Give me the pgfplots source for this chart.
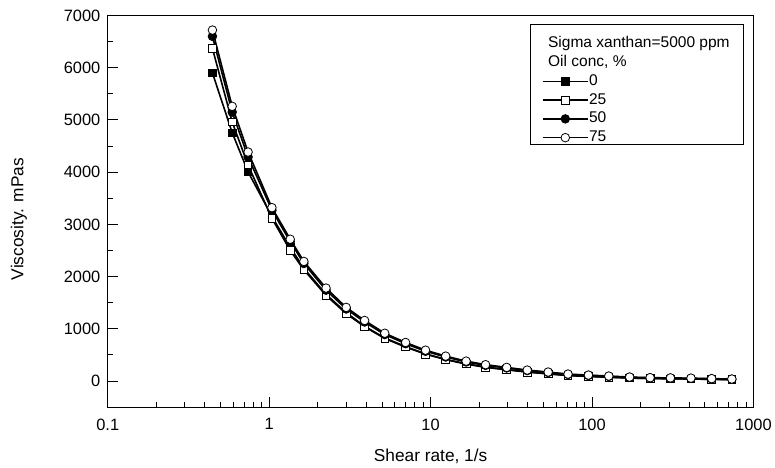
\documentclass[border=0pt]{standalone}
\usepackage{pgfplots}
\pgfplotsset{compat=1.18}
\usepackage{pgfplotstable}
\usepackage{fontspec}
\setmainfont{Liberation Sans}

\pgfplotstableread{
x      s0    s25   s50   s75
0.445  5900  6370  6600  6720
0.59   4755  4960  5150  5260
0.74   4005  4135  4290  4385
1.04   3150  3115  3270  3320
1.35   2560  2500  2670  2715
1.64   2160  2130  2250  2290
2.25   1660  1640  1740  1780
3.0    1310  1290  1380  1410
3.9    1050  1040  1130  1160
5.2    825   815   890   915
7.0    660   650   715   738
9.3    520   515   570   591
12.4   415   410   460   477
16.6   330   325   365   381
21.9   268   262   300   313
29.6   220   215   250   261
39.7   175   170   200   210
53.5   140   137   163   172
71     107   104   126   133
95     90    88    107   114
127    74    72    89    95
171    58    57    71    76
229    48    47    60    64
306    44    43    55    60
410    39    38    50    55
551    33    32    42    46
735    27    26    34    38
}\visc

\begin{document}
\begin{tikzpicture}
\begin{axis}[
  width=647bp, height=392.5bp, scale only axis,
  xmode=log, xmin=0.1, xmax=1000, ymin=-500, ymax=7000,
  xtick={0.1,1,10,100,1000}, xticklabels={0.1,1,10,100,1000},
  minor xtick={0.2,0.3,0.4,0.5,0.6,0.7,0.8,0.9,2,3,4,5,6,7,8,9,20,30,40,50,60,70,80,90,200,300,400,500,600,700,800,900},
  ytick={0,1000,...,7000}, minor ytick={-500,500,...,6500},
  tick align=inside, tick pos=left,
  major tick length=10bp, minor tick length=5bp,
  axis line style={line width=1.2bp},
  every tick/.style={black, line width=1bp},
  /pgf/number format/assume math mode=true,
  /pgf/number format/set thousands separator={},
  yticklabel style={font=\fontsize{16.5}{19}\selectfont, xshift=-4bp},
  xticklabel style={font=\fontsize{16.5}{19}\selectfont, yshift=-8bp},
  every axis y label/.style={at={(axis description cs:-0.1376,0.48)}, rotate=90, anchor=center, font=\fontsize{17.4}{20}\selectfont},
  every axis x label/.style={at={(axis description cs:0.5,-0.126)}, anchor=center, font=\fontsize{17.4}{20}\selectfont},
  ylabel={Viscosity. mPas},
  xlabel={Shear rate, 1/s},
  legend style={at={(rel axis cs:0.6723,0.952)}, anchor=north west, draw=none, fill=none,
    inner xsep=0pt, inner ysep=0pt, column sep=0pt, font=\fontsize{15.6}{18}\selectfont,
    nodes={inner xsep=0.5bp, inner ysep=1bp, text height=12.3bp, text depth=4.5bp}},
  legend cell align=left,
  legend image code/.code={\draw[mark repeat=2,mark phase=2,#1] plot coordinates {(0bp,0bp) (22.5bp,0bp) (45bp,0bp)};},
  every axis plot/.append style={black, line width=1.6bp},
]
\addlegendimage{empty legend}
\addlegendentry{\hspace{-41bp}Sigma xanthan=5000 ppm}
\addlegendimage{empty legend}
\addlegendentry{\hspace{-41bp}Oil conc, \%}
\addplot[mark=square*, mark size=3.8bp, mark options={solid, fill=black, line width=0.8bp}] table[x=x,y=s0] {\visc};
\addlegendentry{0}
\addplot[mark=square*, mark size=3.8bp, mark options={solid, fill=white, line width=0.8bp}] table[x=x,y=s25] {\visc};
\addlegendentry{25}
\addplot[mark=*, mark size=4.3bp, mark options={solid, fill=black, line width=0.8bp}] table[x=x,y=s50] {\visc};
\addlegendentry{50}
\addplot[mark=*, mark size=4.3bp, mark options={solid, fill=white, line width=0.8bp}] table[x=x,y=s75] {\visc};
\addlegendentry{75}
\draw[line width=1bp] (rel axis cs:0.655,0.9758) rectangle (rel axis cs:0.9845,0.670);
\end{axis}
\path[use as bounding box] ([xshift=-108bp,yshift=-59.5bp]current axis.south west) rectangle ([xshift=20bp,yshift=15.5bp]current axis.north east);
\end{tikzpicture}
\end{document}
